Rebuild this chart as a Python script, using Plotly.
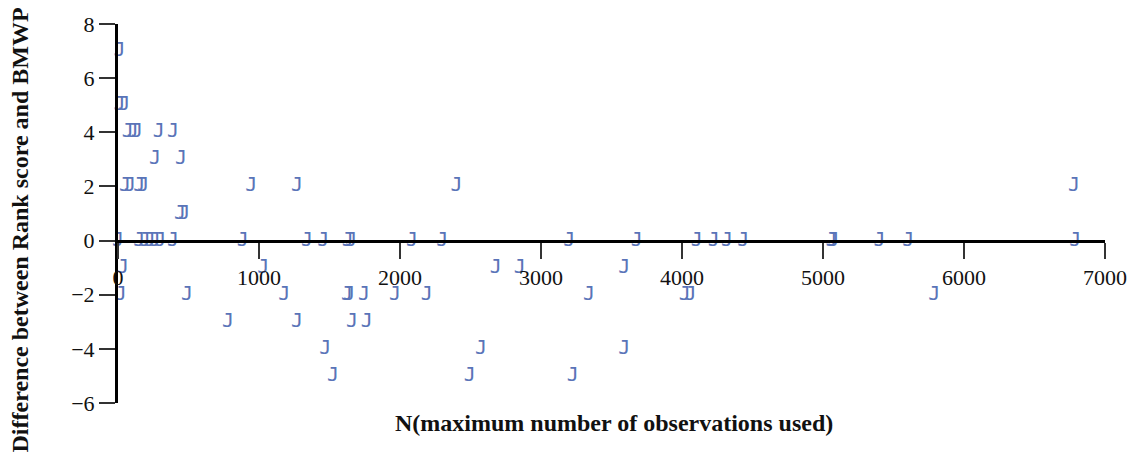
import plotly.graph_objects as go

# N (max number of observations used)
n_obs = [
    10,
    10, 45,
    70, 105, 135, 290, 390,
    262, 447,
    50, 85, 150, 180, 945, 1270, 2400, 6780,
    440, 470,
    0, 150, 190, 225, 260, 300, 390, 885, 1340, 1455, 1630, 1655,
    2085, 2300, 3200, 3680, 4105, 4225, 4320, 4435, 5060, 5075,
    5400, 5605, 6790,
    35, 1030, 2680, 2850, 3590,
    20, 490, 1180, 1625, 1640, 1745, 1965, 2190, 3340, 4020, 4060, 5790,
    780, 1270, 1660, 1765,
    1470, 2575, 3590,
    1525, 2495, 3225,
]
# Difference between Rank score and BMWP
diff = [
    7,
    5, 5,
    4, 4, 4, 4, 4,
    3, 3,
    2, 2, 2, 2, 2, 2, 2, 2,
    1, 1,
    0, 0, 0, 0, 0, 0, 0, 0, 0, 0, 0, 0,
    0, 0, 0, 0, 0, 0, 0, 0, 0, 0,
    0, 0, 0,
    -1, -1, -1, -1, -1,
    -2, -2, -2, -2, -2, -2, -2, -2, -2, -2, -2, -2,
    -3, -3, -3, -3,
    -4, -4, -4,
    -5, -5, -5,
]

x_ticks = [0, 1000, 2000, 3000, 4000, 5000, 6000, 7000]
y_ticks = [-6, -4, -2, 0, 2, 4, 6, 8]
x_title = "N(maximum number of observations used)"
y_title = "Difference between Rank score and BMWP"

serif = "Liberation Serif, Times New Roman, serif"

fig = go.Figure()
fig.add_trace(go.Scatter(
    x=n_obs, y=diff, mode="text", text=["J"] * len(n_obs),
    textposition="middle center",
    textfont=dict(family="DejaVu Sans Mono", size=20, color="#5a74b8"),
    showlegend=False, cliponaxis=False,
))

y_min, y_max = -6, 8
fig.update_layout(
    width=1140, height=457,
    margin=dict(l=118, r=35, t=19, b=54),
    paper_bgcolor="white", plot_bgcolor="white",
    font=dict(family=serif, size=22, color="#111"),
    xaxis=dict(
        range=[0, 7000], tickvals=x_ticks, ticktext=[str(v) for v in x_ticks],
        showgrid=False, zeroline=False, showline=True, linecolor="black", linewidth=3,
        ticks="outside", ticklen=16, tickwidth=2, tickcolor="#333",
        anchor="free", position=(0 - y_min) / (y_max - y_min),
        tickfont=dict(family=serif, size=22, color="#111"),
    ),
    yaxis=dict(
        range=[y_min, y_max], tickvals=y_ticks,
        ticktext=[str(v).replace("-", "\u2212") for v in y_ticks],
        showgrid=False, zeroline=False, showline=True, linecolor="black", linewidth=3,
        ticks="outside", ticklen=16, tickwidth=2, tickcolor="#333",
        tickfont=dict(family=serif, size=22, color="#111"),
    ),
    annotations=[
        dict(text="<b>" + x_title + "</b>", xref="paper", yref="paper",
             x=0.5025, y=-0.052, xanchor="center", yanchor="middle", showarrow=False,
             font=dict(family=serif, size=24, color="#111")),
        dict(text="<b>" + y_title + "</b>", xref="paper", yref="paper",
             x=-0.099, y=0.456, xanchor="center", yanchor="middle", showarrow=False,
             textangle=-90, font=dict(family=serif, size=24, color="#111")),
    ],
)

fig.write_html("out.html")
